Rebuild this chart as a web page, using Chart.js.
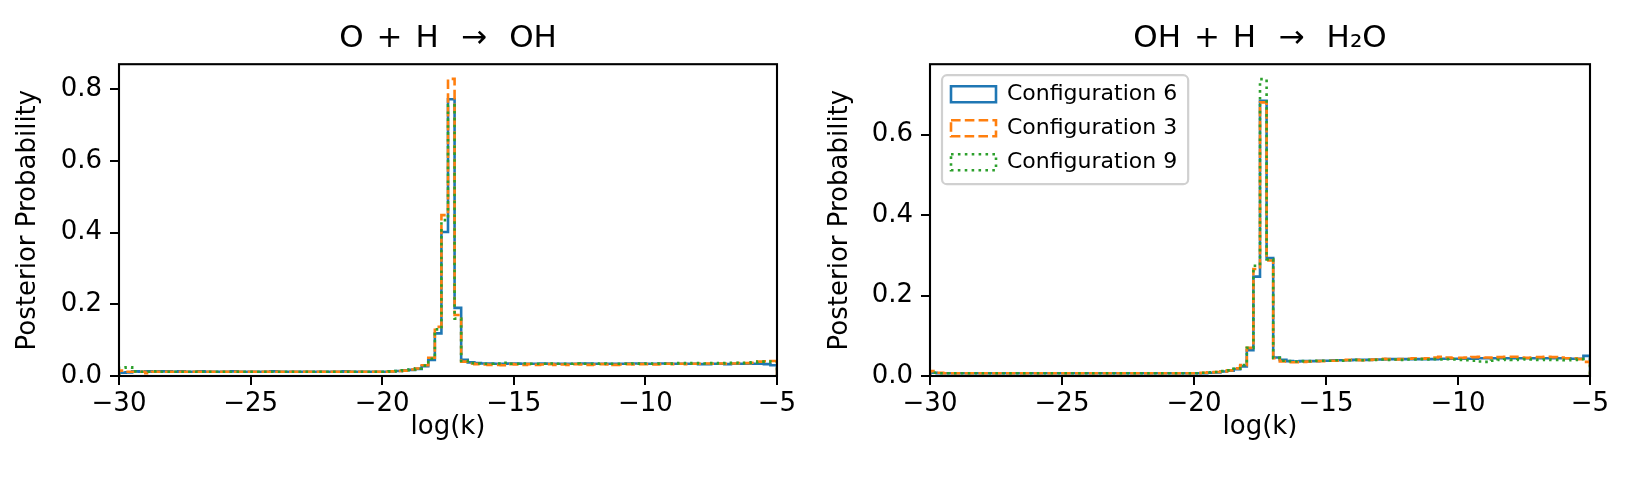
<!DOCTYPE html>
<html>
<head>
<meta charset="utf-8">
<title>Posterior Probability</title>
<script src="https://cdn.jsdelivr.net/npm/chart.js@4.4.1/dist/chart.umd.min.js"></script>
<style>
  html, body { margin: 0; padding: 0; background: #fff; }
  #wrap { position: relative; width: 1632px; height: 484px; }
  canvas { position: absolute; top: 0; }
  #ohChart { left: 0; }
  #h2oChart { left: 816px; }
</style>
</head>
<body>
<div id="wrap">
  <canvas id="ohChart" width="816" height="484"></canvas>
  <canvas id="h2oChart" width="816" height="484"></canvas>
</div>
<script>
"use strict";

// histogram bins: 100 bins of 0.25 in log(k), from -30 to -5
var binStart = -30;
var binWidth = 0.25;
var xTicks = [-30, -25, -20, -15, -10, -5];
var ohYTicks = [0, 0.2, 0.4, 0.6, 0.8];
var h2oYTicks = [0, 0.2, 0.4, 0.6];

var seriesNames = ['Configuration 6', 'Configuration 3', 'Configuration 9'];
var seriesColors = ['#1f77b4', '#ff7f0e', '#2ca02c'];

// O + H -> OH
var ohConfig6 = [
    0.009, 0.010, 0.013, 0.012, 0.013, 0.012, 0.013, 0.013, 0.012, 0.013,
    0.012, 0.012, 0.013, 0.012, 0.012, 0.012, 0.012, 0.013, 0.012, 0.012,
    0.012, 0.012, 0.012, 0.013, 0.012, 0.012, 0.012, 0.012, 0.012, 0.012,
    0.012, 0.012, 0.012, 0.012, 0.013, 0.012, 0.012, 0.012, 0.012, 0.012,
    0.012, 0.013, 0.014, 0.016, 0.017, 0.020, 0.027, 0.045, 0.119, 0.402,
    0.772, 0.190, 0.045, 0.038, 0.036, 0.035, 0.035, 0.034, 0.034, 0.035,
    0.035, 0.034, 0.034, 0.034, 0.035, 0.034, 0.034, 0.034, 0.034, 0.034,
    0.035, 0.035, 0.034, 0.034, 0.034, 0.034, 0.034, 0.035, 0.035, 0.035,
    0.034, 0.034, 0.035, 0.035, 0.034, 0.034, 0.034, 0.034, 0.033, 0.033,
    0.034, 0.034, 0.033, 0.034, 0.034, 0.034, 0.034, 0.034, 0.033, 0.030
];
var ohConfig3 = [
    0.015, 0.012, 0.012, 0.012, 0.008, 0.012, 0.012, 0.012, 0.012, 0.012,
    0.012, 0.012, 0.012, 0.012, 0.012, 0.012, 0.012, 0.012, 0.012, 0.012,
    0.012, 0.012, 0.012, 0.012, 0.012, 0.012, 0.012, 0.012, 0.012, 0.012,
    0.012, 0.012, 0.012, 0.012, 0.012, 0.012, 0.012, 0.012, 0.012, 0.012,
    0.012, 0.013, 0.014, 0.015, 0.018, 0.021, 0.030, 0.051, 0.137, 0.449,
    0.829, 0.170, 0.040, 0.035, 0.033, 0.032, 0.031, 0.031, 0.030, 0.033,
    0.032, 0.031, 0.033, 0.031, 0.032, 0.033, 0.031, 0.032, 0.031, 0.033,
    0.032, 0.031, 0.032, 0.033, 0.032, 0.031, 0.032, 0.033, 0.032, 0.033,
    0.033, 0.032, 0.033, 0.034, 0.033, 0.034, 0.033, 0.034, 0.034, 0.035,
    0.034, 0.035, 0.034, 0.035, 0.036, 0.036, 0.037, 0.040, 0.041, 0.042
];
var ohConfig9 = [
    0.023, 0.024, 0.013, 0.012, 0.012, 0.013, 0.012, 0.012, 0.012, 0.012,
    0.012, 0.012, 0.012, 0.012, 0.012, 0.012, 0.012, 0.012, 0.012, 0.012,
    0.012, 0.012, 0.012, 0.012, 0.012, 0.012, 0.012, 0.012, 0.012, 0.012,
    0.012, 0.012, 0.012, 0.012, 0.012, 0.012, 0.012, 0.012, 0.012, 0.012,
    0.012, 0.013, 0.014, 0.016, 0.018, 0.021, 0.029, 0.048, 0.130, 0.435,
    0.755, 0.160, 0.042, 0.036, 0.035, 0.034, 0.034, 0.035, 0.037, 0.034,
    0.034, 0.035, 0.034, 0.034, 0.034, 0.035, 0.034, 0.034, 0.034, 0.035,
    0.034, 0.034, 0.034, 0.035, 0.034, 0.034, 0.034, 0.034, 0.035, 0.034,
    0.035, 0.034, 0.035, 0.034, 0.035, 0.036, 0.035, 0.036, 0.035, 0.035,
    0.036, 0.035, 0.036, 0.037, 0.036, 0.037, 0.038, 0.040, 0.040, 0.039
];

// OH + H -> H2O
var h2oConfig6 = [
    0.008, 0.007, 0.007, 0.007, 0.007, 0.007, 0.007, 0.007, 0.007, 0.007,
    0.007, 0.007, 0.007, 0.007, 0.007, 0.007, 0.007, 0.007, 0.007, 0.007,
    0.007, 0.007, 0.007, 0.007, 0.007, 0.007, 0.007, 0.007, 0.007, 0.007,
    0.007, 0.007, 0.007, 0.007, 0.007, 0.007, 0.007, 0.007, 0.007, 0.007,
    0.007, 0.007, 0.008, 0.009, 0.011, 0.013, 0.017, 0.024, 0.064, 0.247,
    0.684, 0.293, 0.046, 0.040, 0.037, 0.036, 0.037, 0.037, 0.037, 0.038,
    0.038, 0.039, 0.039, 0.039, 0.040, 0.040, 0.040, 0.041, 0.041, 0.042,
    0.042, 0.042, 0.042, 0.042, 0.042, 0.042, 0.042, 0.043, 0.043, 0.043,
    0.043, 0.043, 0.043, 0.044, 0.044, 0.044, 0.044, 0.044, 0.044, 0.044,
    0.044, 0.044, 0.044, 0.044, 0.044, 0.044, 0.044, 0.043, 0.043, 0.050
];
var h2oConfig3 = [
    0.012, 0.008, 0.007, 0.007, 0.007, 0.007, 0.007, 0.007, 0.007, 0.007,
    0.007, 0.007, 0.007, 0.007, 0.007, 0.007, 0.007, 0.007, 0.007, 0.007,
    0.007, 0.007, 0.007, 0.007, 0.007, 0.007, 0.007, 0.007, 0.007, 0.007,
    0.007, 0.007, 0.007, 0.007, 0.007, 0.007, 0.007, 0.007, 0.007, 0.007,
    0.007, 0.008, 0.009, 0.010, 0.011, 0.014, 0.019, 0.027, 0.070, 0.266,
    0.680, 0.287, 0.044, 0.036, 0.034, 0.034, 0.035, 0.036, 0.037, 0.037,
    0.038, 0.038, 0.039, 0.040, 0.040, 0.039, 0.040, 0.041, 0.043, 0.042,
    0.041, 0.042, 0.043, 0.044, 0.043, 0.044, 0.046, 0.048, 0.046, 0.044,
    0.045, 0.046, 0.047, 0.048, 0.046, 0.045, 0.047, 0.048, 0.048, 0.046,
    0.045, 0.046, 0.047, 0.048, 0.047, 0.046, 0.044, 0.044, 0.042, 0.035
];
var h2oConfig9 = [
    0.008, 0.007, 0.007, 0.007, 0.007, 0.007, 0.007, 0.007, 0.007, 0.007,
    0.007, 0.007, 0.007, 0.007, 0.007, 0.007, 0.007, 0.007, 0.007, 0.007,
    0.007, 0.007, 0.007, 0.007, 0.007, 0.007, 0.007, 0.007, 0.007, 0.007,
    0.007, 0.007, 0.007, 0.007, 0.007, 0.007, 0.007, 0.007, 0.007, 0.007,
    0.007, 0.008, 0.009, 0.010, 0.012, 0.014, 0.018, 0.027, 0.070, 0.274,
    0.738, 0.290, 0.045, 0.038, 0.037, 0.036, 0.037, 0.037, 0.038, 0.038,
    0.038, 0.039, 0.038, 0.039, 0.040, 0.039, 0.040, 0.040, 0.041, 0.040,
    0.041, 0.040, 0.041, 0.041, 0.042, 0.041, 0.042, 0.041, 0.042, 0.041,
    0.040, 0.039, 0.038, 0.036, 0.035, 0.038, 0.040, 0.041, 0.040, 0.041,
    0.042, 0.041, 0.040, 0.041, 0.040, 0.040, 0.039, 0.040, 0.042, 0.042
];

Chart.defaults.font.family = '"DejaVu Sans", sans-serif';
Chart.defaults.color = '#000';

var LINE_W = 2.6;
var seriesDash = [[], [9.6, 4.2], [2.6, 4.3]];

// step outline like matplotlib histtype='step'
function histPoints(values) {
    var pts = [{x: binStart, y: 0}];
    values.forEach(function (v, i) {
        pts.push({x: binStart + i * binWidth, y: v});
    });
    pts.push({x: binStart + values.length * binWidth, y: 0});
    return pts;
}

// four black spines round the plot area
var framePlugin = {
    id: 'axesFrame',
    afterDatasetsDraw: function (chart) {
        var a = chart.chartArea, ctx = chart.ctx;
        ctx.save();
        ctx.strokeStyle = '#000';
        ctx.lineWidth = 2.1;
        ctx.strokeRect(a.left, a.top, a.right - a.left, a.bottom - a.top);
        ctx.restore();
    }
};

// put the legend in the upper left of the axes, with a rounded frame
var legendFramePlugin = {
    id: 'legendFrame',
    afterLayout: function (chart, args, opts) {
        var lg = chart.legend;
        if (!lg || !lg.options.display) return;
        var a = chart.chartArea;
        var h = lg.height, w = lg.width;
        lg.left = a.left + opts.dx;
        lg.top = a.top + opts.dy;
        lg.right = lg.left + w;
        lg.bottom = lg.top + h;
    },
    beforeDraw: function (chart, args, opts) {
        var lg = chart.legend;
        if (!lg || !lg.options.display || !lg.columnSizes || !lg.columnSizes.length) return;
        var lab = lg.options.labels;
        var n = lg.legendItems.length;
        var itemH = Math.max(opts.fontSize, lab.boxHeight);
        var x0 = lg.left + lab.padding - 9;
        var y0 = lg.top + lab.padding - 8;
        var x1 = lg.left + lab.padding + lg.columnSizes[0].width + 11;
        var y1 = lg.top + lab.padding + n * itemH + (n - 1) * lab.padding + 11;
        var ctx = chart.ctx;
        ctx.save();
        ctx.beginPath();
        ctx.roundRect(x0, y0, x1 - x0, y1 - y0, 5);
        ctx.fillStyle = 'rgba(255,255,255,0.8)';
        ctx.fill();
        ctx.strokeStyle = '#d0d0d0';
        ctx.lineWidth = 2.2;
        ctx.stroke();
        ctx.restore();
    }
};

function makeChart(id, title, series, yMax, yTicks, pad, showLegend) {
    var datasets = series.map(function (vals, i) {
        return {
            label: seriesNames[i],
            data: histPoints(vals),
            borderColor: seriesColors[i],
            backgroundColor: 'rgba(0,0,0,0)',
            borderWidth: LINE_W,
            borderDash: seriesDash[i],
            borderCapStyle: 'butt',
            borderJoinStyle: 'miter',
            stepped: 'before',
            fill: false,
            pointRadius: 0,
            pointHoverRadius: 0,
            order: series.length - 1 - i
        };
    });

    return new Chart(document.getElementById(id), {
        type: 'line',
        data: {datasets: datasets},
        plugins: [framePlugin, legendFramePlugin],
        options: {
            responsive: false,
            animation: false,
            events: [],
            layout: {padding: {left: pad.left, right: pad.right, top: 0, bottom: 37}},
            scales: {
                x: {
                    type: 'linear',
                    min: -30,
                    max: -5,
                    afterBuildTicks: function (scale) {
                        scale.ticks = xTicks.map(function (v) { return {value: v}; });
                    },
                    afterFit: function (scale) { scale.height = 71; },
                    ticks: {
                        autoSkip: false,
                        maxRotation: 0,
                        padding: 4,
                        font: {size: 26},
                        callback: function (v) { return String(v).replace('-', '\u2212'); }
                    },
                    grid: {drawOnChartArea: false, drawTicks: true, tickLength: 9, color: '#000', lineWidth: 2},
                    border: {display: false},
                    title: {display: true, text: 'log(k)', font: {size: 26}, padding: {top: 4, bottom: 4}}
                },
                y: {
                    type: 'linear',
                    min: 0,
                    max: yMax,
                    afterBuildTicks: function (scale) {
                        scale.ticks = yTicks.map(function (v) { return {value: v}; });
                    },
                    afterFit: function (scale) { scale.width = pad.axis; },
                    ticks: {
                        autoSkip: false,
                        padding: 8,
                        font: {size: 26},
                        callback: function (v) { return v.toFixed(1); }
                    },
                    grid: {drawOnChartArea: false, drawTicks: true, tickLength: 9, color: '#000', lineWidth: 2},
                    border: {display: false},
                    title: {display: true, text: 'Posterior Probability', font: {size: 26}, padding: {top: 4, bottom: 4}}
                }
            },
            plugins: {
                title: {
                    display: true,
                    text: title,
                    fullSize: false,
                    color: '#000',
                    font: {size: 31, weight: 'normal'},
                    padding: {top: 20, bottom: 7}
                },
                legend: {
                    display: showLegend,
                    position: 'chartArea',
                    align: 'start',
                    labels: {
                        boxWidth: 45,
                        boxHeight: 16,
                        padding: 12,
                        color: '#000',
                        font: {size: 22},
                        sort: function (a, b) { return a.datasetIndex - b.datasetIndex; }
                    }
                },
                legendFrame: {dx: 9, dy: 7, fontSize: 22},
                tooltip: {enabled: false}
            }
        }
    });
}

makeChart('ohChart', 'O\u200A + \u200AH\u2009\u2009 \u2192 \u2009\u2009OH',
    [ohConfig6, ohConfig3, ohConfig9], 0.87, ohYTicks,
    {left: 9, right: 39, axis: 110}, false);

makeChart('h2oChart', 'OH\u200A + \u200AH\u2009\u2009 \u2192 \u2009\u2009H\u2082O',
    [h2oConfig6, h2oConfig3, h2oConfig9], 0.775, h2oYTicks,
    {left: 5, right: 42, axis: 109}, true);
</script>
</body>
</html>
